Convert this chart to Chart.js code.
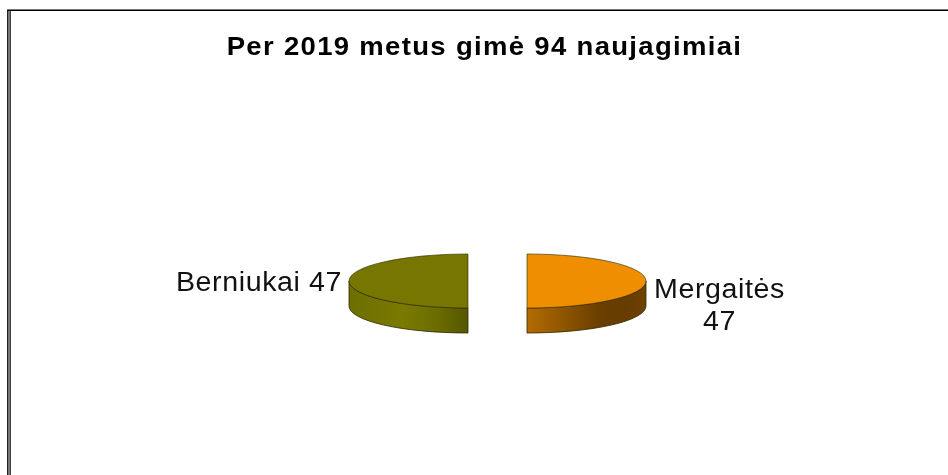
<!DOCTYPE html>
<html><head><meta charset="utf-8">
<style>html,body{margin:0;padding:0;background:#fff}canvas{display:block}</style>
<script src="https://cdn.jsdelivr.net/npm/chart.js@4"></script>
</head><body><canvas id="c" width="948" height="475"></canvas>
<script>
const titleText = 'Per 2019 metus gimė 94 naujagimiai';
const categories = ['Mergaitės', 'Berniukai'];
const values = [47, 47];
const topColors = ['#ee8e00', '#767600'];
const labelLines = [['Mergaitės', '47'], ['Berniukai 47']];

const PIE_X = 497.5, PIE_Y = 281, RADIUS = 119, SQUASH = 27 / 119, DEPTH = 25, EXPLODE = 29.5;
const TITLE_STRETCH = 1.1, TITLE_SPACING = '1.2px', LABEL_STRETCH = 1.06, LABEL_SPACING = '0.55px';
const labelAnchors = [{x: 719.5, y: 298, lh: 32, align: 'center'}, {x: 342, y: 291, lh: 32, align: 'right'}];
const sideStops = [
  [[0, '#b46c00'], [0.3, '#8f5500'], [0.62, '#693e00'], [0.85, '#663c00'], [1, '#6f4200']],
  [[0, '#6c6e00'], [0.45, '#7a7a00'], [0.75, '#6a6c00'], [1, '#555600']]
];

function lowerSpan(a, b) {
  const s = Math.max(a, 0), e = Math.min(b, Math.PI);
  return e > s ? [s, e] : null;
}
function geometry(arc) {
  const mid = (arc.startAngle + arc.endAngle) / 2;
  const dx = Math.cos(mid) * EXPLODE;
  return {dx, cx: PIE_X + dx, cy: PIE_Y, rx: arc.outerRadius, ry: arc.outerRadius * SQUASH};
}
const pie3d = {
  id: 'pie3d',
  afterLayout(chart) {
    const t = chart.titleBlock;
    if (t._wrapped) return;
    const orig = t.draw;
    t.draw = function () {
      const c = chart.ctx, mx = (t.left + t.right) / 2;
      c.save();
      c.letterSpacing = TITLE_SPACING;
      c.translate(mx, 0); c.scale(TITLE_STRETCH, 1); c.translate(-mx, 0);
      orig.call(t);
      c.restore();
    };
    t._wrapped = true;
  },
  beforeDraw(chart) {
    const c = chart.ctx;
    c.save();
    c.fillStyle = '#fff'; c.fillRect(0, 0, chart.width, chart.height);
    c.fillStyle = '#777'; c.fillRect(7, 9, chart.width - 7, 1); c.fillRect(8, 10, 2, chart.height - 10);
    c.fillStyle = '#000'; c.fillRect(7, 10, chart.width - 7, 1);
    c.fillStyle = '#222'; c.fillRect(7, 10, 1, chart.height - 10);
    c.fillStyle = '#444'; c.fillRect(10, 11, 1, chart.height - 11);
    c.restore();
  },
  beforeDatasetsDraw(chart) {
    const c = chart.ctx;
    const arcs = chart.getDatasetMeta(0).data;
    arcs.forEach((arc, i) => {
      const g = geometry(arc);
      const span = lowerSpan(arc.startAngle, arc.endAngle);
      if (span) {
        const left = g.cx + g.rx * Math.cos(span[1]), right = g.cx + g.rx * Math.cos(span[0]);
        const grad = c.createLinearGradient(left, 0, right, 0);
        sideStops[i].forEach(s => grad.addColorStop(s[0], s[1]));
        c.beginPath();
        c.ellipse(g.cx, g.cy, g.rx, g.ry, 0, span[0], span[1]);
        c.ellipse(g.cx, g.cy + DEPTH, g.rx, g.ry, 0, span[1], span[0], true);
        c.closePath();
        c.fillStyle = grad; c.fill();
        c.strokeStyle = 'rgba(45,40,0,0.8)'; c.lineWidth = 1; c.stroke();
      }
      c.save();
      c.translate(g.cx, PIE_Y);
      c.scale(1, SQUASH);
      c.translate(-arc.x, -arc.y);
      arc.draw(c);
      c.restore();
      c.beginPath();
      c.ellipse(g.cx, g.cy, g.rx, g.ry, 0, arc.startAngle, arc.endAngle);
      c.closePath();
      c.strokeStyle = 'rgba(45,40,0,0.6)'; c.lineWidth = 1; c.stroke();
    });
    c.save();
    c.font = '27px "Liberation Sans", Arial, sans-serif';
    c.letterSpacing = LABEL_SPACING;
    c.fillStyle = '#111'; c.textBaseline = 'alphabetic'; c.textAlign = 'center';
    labelLines.forEach((lines, i) => {
      const a = labelAnchors[i];
      lines.forEach((t, j) => {
        const w = c.measureText(t).width * LABEL_STRETCH;
        const mx = a.align === 'right' ? a.x - w / 2 : a.x;
        c.save();
        c.translate(mx, a.y + j * a.lh); c.scale(LABEL_STRETCH, 1);
        c.fillText(t, 0, 0);
        c.restore();
      });
    });
    c.restore();
    return false;
  }
};
new Chart(document.getElementById('c'), {
  type: 'pie',
  data: {labels: categories, datasets: [{data: values, backgroundColor: topColors, borderWidth: 0, offset: 0, hoverOffset: 0}]},
  options: {
    responsive: false, animation: false, radius: RADIUS,
    layout: {padding: {left: 21}},
    events: [],
    plugins: {
      legend: {display: false}, tooltip: {enabled: false},
      title: {display: true, text: titleText, color: '#000', padding: {top: 33, bottom: 10},
        font: {family: '"Liberation Sans", Arial, sans-serif', size: 25, weight: 'bold', lineHeight: 1.2}}
    }
  },
  plugins: [pie3d]
});
</script></body></html>
